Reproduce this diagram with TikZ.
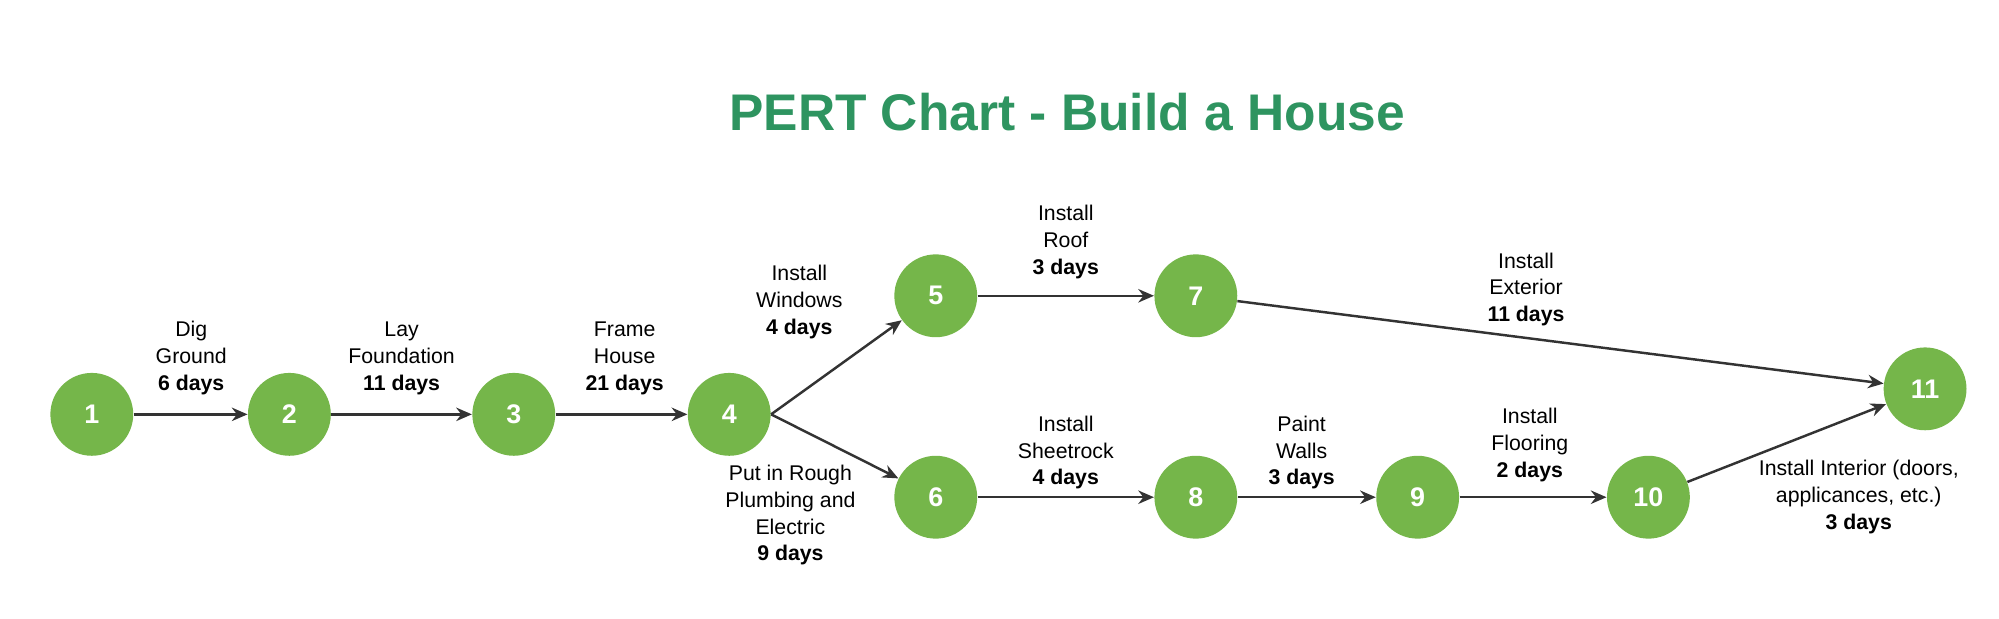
\documentclass[tikz,border=0pt]{standalone}
\usepackage{fontspec}
\setmainfont{Liberation Sans}
\usetikzlibrary{arrows.meta}
\definecolor{evgreen}{HTML}{75B64A}
\definecolor{ttlgreen}{HTML}{2E9460}
\definecolor{arrgray}{HTML}{333333}
\tikzset{
    event/.style={circle, fill=evgreen, minimum size=1.3cm, inner sep=0pt,
        text=white, font=\fontsize{12}{14}\selectfont\bfseries},
    act/.style={-{Stealth[length=7pt,width=6pt]}, arrgray, line width=1.1pt},
    task/.style={align=center, font=\fontsize{9.5}{12}\selectfont}
}
\begin{document}
\begin{tikzpicture}[x=0.02cm, y=-0.02cm]
\useasboundingbox (0,0) rectangle (1568,485);

% Title
\node[font=\fontsize{23}{26}\selectfont\bfseries, text=ttlgreen] (title) at (837,88) {PERT Chart - Build a House};

% Events
\node[event] (e1) at (72,325) {1};
\node[event] (e2) at (227,325) {2};
\node[event] (e3) at (403,325) {3};
\node[event] (e4) at (572,325) {4};
\node[event] (e5) at (734,232) {5};
\node[event] (e6) at (734,390) {6};
\node[event] (e7) at (938,232) {7};
\node[event] (e8) at (938,390) {8};
\node[event] (e9) at (1112,390) {9};
\node[event] (e10) at (1293,390) {10};
\node[event] (e11) at (1510,305) {11};

% Activities
\draw[act] (e1) -- (e2);
\draw[act] (e2) -- (e3);
\draw[act] (e3) -- (e4);
\draw[act] (e4.east) -- (e5);
\draw[act] (e4.east) -- (e6);
\draw[act] (e5) -- (e7);
\draw[act] (e6) -- (e8);
\draw[act] (e7) -- (e11);
\draw[act] (e8) -- (e9);
\draw[act] (e9) -- (e10);
\draw[act] (e10) -- (e11);

% Task labels
\node[task] (t12) at (150,281) {Dig\\Ground\\\textbf{6 days}};
\node[task] (t23) at (315,281) {Lay\\Foundation\\\textbf{11 days}};
\node[task] (t34) at (490,281) {Frame\\House\\\textbf{21 days}};
\node[task] (t45) at (627,237) {Install\\Windows\\\textbf{4 days}};
\node[task] (t46) at (620,404) {Put in Rough\\Plumbing and\\Electric\\\textbf{9 days}};
\node[task] (t57) at (836,190) {Install\\Roof\\\textbf{3 days}};
\node[task] (t711) at (1197,227) {Install\\Exterior\\\textbf{11 days}};
\node[task] (t68) at (836,355) {Install\\Sheetrock\\\textbf{4 days}};
\node[task] (t89) at (1021,355) {Paint\\Walls\\\textbf{3 days}};
\node[task] (t910) at (1200,349) {Install\\Flooring\\\textbf{2 days}};
\node[task] (t1011) at (1458,390) {Install Interior (doors,\\applicances, etc.)\\\textbf{3 days}};

\end{tikzpicture}
\end{document}
